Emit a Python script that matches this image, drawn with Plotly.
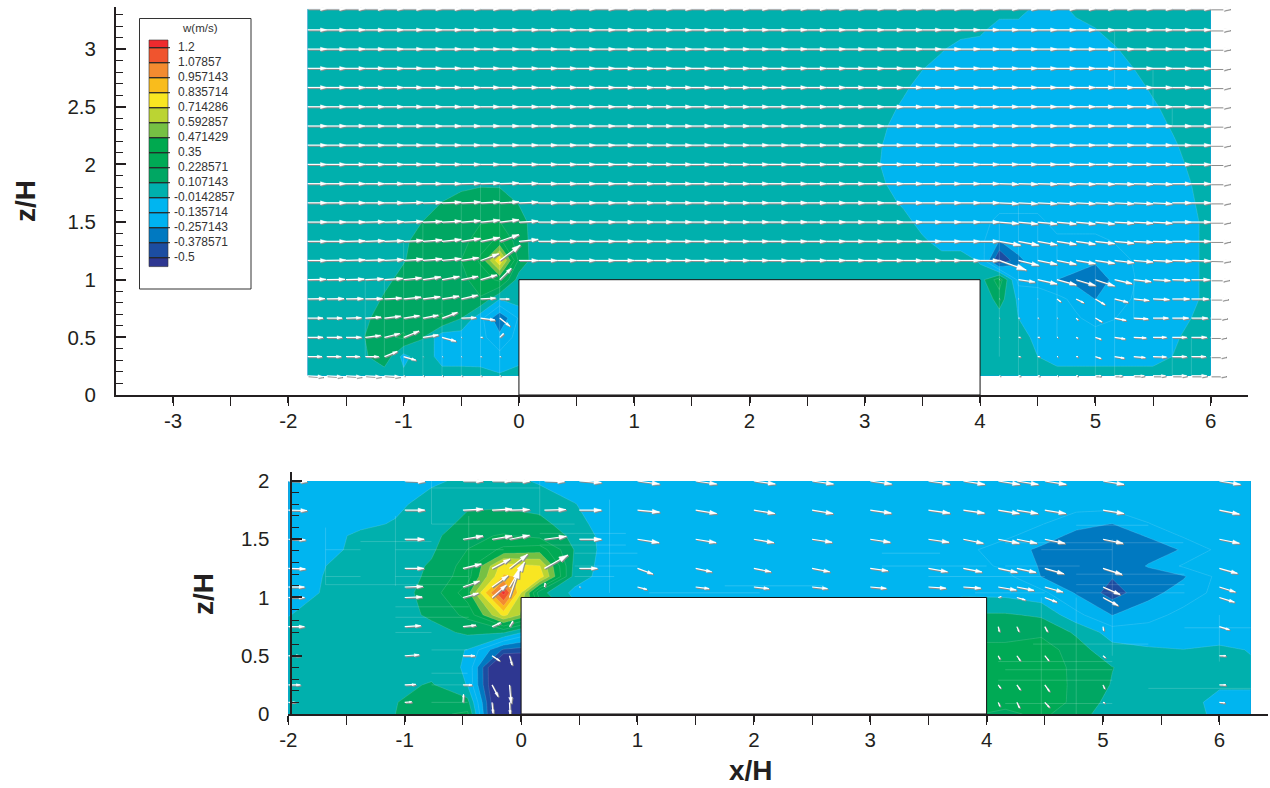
import math
import plotly.graph_objects as go

W, H = 1270, 788
FONT = "Liberation Sans"
INK = "#231F20"

level_labels = ["1.2", "1.07857", "0.957143", "0.835714", "0.714286", "0.592857", "0.471429", "0.35",
                "0.228571", "0.107143", "-0.0142857", "-0.135714", "-0.257143", "-0.378571", "-0.5"]
level_values = [1.2, 1.07857, 0.957143, 0.835714, 0.714286, 0.592857, 0.471429, 0.35,
                0.228571, 0.107143, -0.0142857, -0.135714, -0.257143, -0.378571, -0.5]
band_colors = ["#2E3791", "#1C4DA1", "#0079C1", "#00B2F0", "#00B5F0", "#00B0AD", "#00A763", "#00AA55",
               "#00A94F", "#76C044", "#BBD433", "#F8E622", "#F9BC1C", "#F38B30", "#F0542E", "#EE2A2E"]

# ---------- upper panel: grid
x_top = [-1.833, -1.667, -1.5, -1.333, -1.167, -1, -.833, -.667, -.5, -.333, -.167, 0, .167, .333, .5, .667, .833, 1,
         1.167, 1.333, 1.5, 1.667, 1.833, 2, 2.167, 2.333, 2.5, 2.667, 2.833, 3, 3.167, 3.333, 3.5, 3.667, 3.833, 4,
         4.167, 4.333, 4.5, 4.667, 4.833, 5, 5.167, 5.333, 5.5, 5.667, 5.833, 6]
z_top = [.167, .333, .5, .667, .833, 1, 1.167, 1.333, 1.5, 1.667, 1.833, 2, 2.167, 2.333, 2.5, 2.667, 2.833, 3, 3.167, 3.35]

w_top = [
    [.05, .05, .05, .05, .03, .02, .05, .05, .05, .05, .0, .05] + [.05] * 36,
    [.05, .05, .05, .09, .2, -.06, .08, -.08, -.08, -.09, -.1, -.07] + [.05] * 26 + [-.014] + [-.08] * 6 + [-.014, .05, .05],
    [.05, .05, .05, .11, .2, .25, .11, -.1, -.08, -.1, -.22, -.09] + [.05] * 26 + [-.057] + [-.08] * 6 + [-.057, .05, .05],
    [.05, .05, .05, .09, .15, .17, .19, .25, .11, -.095, -.36, -.12] + [.05] * 24 + [.06, -.015, -.08, -.08, -.12, -.18, -.14, -.08, -.08, -.08, -.014, .05],
    [.05, .05, .05, .05, .12, .16, .16, .17, .17, .22, -.01, .05] + [.05] * 23 + [.0, .16, -.04, -.1, -.1, -.17, -.26, -.17, -.13, -.08, -.08, -.057, .05],
    [.05, .05, .05, .05, .08, .14, .16, .17, .2, .28, .38, .05] + [.05] * 24 + [.3, -.18, -.16, -.257, -.3, -.36, -.217, -.14, -.08, -.08, -.057, .05],
    [.05, .05, .05, .05, .05, .1, .16, .17, .23, .37, .82, .2, .02] + [.05] * 22 + [-.03, -.52, -.28, -.2, -.16, -.19, -.23, -.18, -.13, -.08, -.08, -.057, .05],
    [.05, .05, .05, .05, .05, .08, .17, .17, .18, .3, .38, .16] + [.05] * 20 + [.018, -.08, -.08, -.1, -.26, -.2, -.17, -.17, -.17, -.17, -.13, -.08, -.08, -.08, -.057, .05],
    [.05, .05, .05, .05, .05, .05, .11, .15, .17, .22, .23, .15] + [.05] * 19 + [.051] + [-.08] * 4 + [-.18] * 3 + [-.08] * 7 + [-.057, .05],
    [.05] * 7 + [.11, .16, .18, .17, .1] + [.05] * 19 + [-.042] + [-.08] * 14 + [-.03, .05],
    [.05] * 8 + [.07, .09, .09, .05] + [.05] * 18 + [-.007] + [-.08] * 15 + [-.014, .05],
    [.05] * 30 + [-.03] + [-.08] * 15 + [.018, .05],
    [.05] * 30 + [-.021] + [-.08] * 14 + [-.042, .05, .05],
    [.05] * 30 + [.002] + [-.08] * 14 + [.002, .05, .05],
    [.05] * 31 + [-.042] + [-.08] * 12 + [-.042, .05, .05, .05],
    [.05] * 31 + [.018] + [-.08] * 12 + [.018, .05, .05, .05],
    [.05] * 32 + [-.007] + [-.08] * 10 + [-.014, .05, .05, .05, .05],
    [.05] * 33 + [.002] + [-.08] * 8 + [-.03] + [.05] * 5,
    [.05] * 35 + [.018] + [-.08] * 5 + [-.021] + [.05] * 6,
    [.05] * 38 + [-.057, -.08, .034] + [.05] * 7,
]

u_arrow_top = [
    [.8] * 5 + [.05] * 6 + [0] + [0] * 24 + [.05, .1, .1, .05, .1, .3, .4, .55, .65, .75, .8, .8],
    [.75, .75, .72, .7, .67, .63, .02, .03, .03, .05, .05, 0] + [0] * 24 + [0, .1, .1, .05, .1, .3, .5, .6, .7, .75, .75, .8],
    [.8, .8, .8, .8, .8, .8, .8, .72, .03, .1, .2, 0] + [0] * 24 + [.02, .1, .1, .05, .1, .3, .55, .65, .7, .75, .8, .8],
    [.8, .8, .8, .82, .85, .82, .8, .8, .77, .75, .53, 0] + [0] * 24 + [.02, .05, .05, .03, .1, .35, .6, .75, .8, .85, .85, .85],
    [.9, .9, .9, .9, .9, .9, .9, .88, .85, .78, .5, 0] + [0] * 24 + [.02, .02, .02, .2, .4, .5, .7, .8, .85, .9, .9, .9],
    [.95, .95, .95, .95, .95, .93, .93, .9, .87, .85, .6, 0] + [0] * 24 + [.02, .85, 1, 1, 1, 1, .9, .9, .9, .93, .95, .95],
    [1] * 8 + [.9, .95, 1.07, 1] + [1] * 24 + [1.4, 1.05, 1, 1, 1, 1, 1, 1, 1, 1, 1, 1],
    [1] * 36 + [1.1, 1.05] + [1] * 10,
    [1] * 48, [1] * 48, [1] * 48, [1] * 48, [1] * 48, [1] * 48, [1] * 48, [1] * 48, [1] * 48, [1] * 48, [1] * 48, [1] * 48,
]
v_arrow_top = [
    [-.05] * 5 + [0] * 43,
    [0, 0, 0, 0, .27, -.18] + [0] * 30 + [0, 0, 0, 0, 0, -.1, -.08, -.05, -.02, 0, 0, 0],
    [0, 0, 0, .1, .2, .33, .13, -.2, 0, 0, .2, 0] + [0] * 24 + [0, 0, 0, 0, -.05, -.1, -.08, -.03, 0, 0, 0, 0],
    [0, 0, .02, .05, .1, .13, .15, .3, .03, -.1, -.42, 0] + [0] * 24 + [0, 0, 0, 0, -.1, -.2, -.12, -.04, 0, 0, 0, 0],
    [.02, .02, .02, .02, .05, .1, .12, .15, .2, .05, 0, 0] + [0] * 24 + [0, 0, 0, -.15, -.2, -.3, -.17, -.08, -.03, 0, 0, 0],
    [.02, .02, .03, .05, .07, .1, .15, .17, .18, .25, .6, 0] + [0] * 24 + [0, -.12, -.22, -.27, -.3, -.33, -.2, -.1, -.05, -.02, 0, 0],
    [0, .02, .03, .03, .05, .07, .08, .1, .15, .35, .8, 0] + [0] * 24 + [-.5, -.25, -.2, -.2, -.17, -.15, -.12, -.08, -.05, -.02, -.02, -.02],
    [0, 0, .02, .03, .03, .05, .07, .1, .15, .2, .35, .1] + [0] * 24 + [-.2, -.2, -.18, -.16, -.15, -.12, -.1, -.05, -.03, 0, 0, 0],
    [0, 0, 0, .02, .02, .03, .03, .05, .07, .1, .12, .05] + [0] * 24 + [-.08, -.1, -.1, -.1, -.1, -.1, -.06, -.06, -.06, 0, 0, 0],
    [0, 0, 0, 0, 0, .02, .02, .03, .04, .05, .05, .03] + [0] * 24 + [-.05] * 9 + [0] * 3,
    [0] * 8 + [.02, .03, .03, .01] + [0] * 24 + [-.03] * 9 + [0] * 3,
    [0] * 48, [0] * 48, [0] * 48, [0] * 48, [0] * 48, [0] * 48, [0] * 48, [0] * 48, [0] * 48,
]

# pale mesh edges seen through the upper contour: x0, z0, x1, z1
mesh_top = [
    [-1.333, .333, -1.333, 1], [-1.167, .333, -1.167, 1], [-1, .167, -1, 1.333], [-.833, .167, -.833, 1.5],
    [-.667, .167, -.667, 1], [-.5, .167, -.5, 1.667], [-.333, .167, -.333, 1.833], [-.167, .167, -.167, 1.833],
    [4.167, .333, 4.167, 1.5], [4.333, .167, 4.333, 1.667], [4.5, .167, 4.5, 1.5], [4.667, .5, 4.667, 1.333],
    [5, .167, 5, 1.167], [5.167, .167, 5.167, .833], [5.333, .667, 5.333, 1], [5.667, .167, 5.667, .5], [5.833, .167, 5.833, .5],
    [5.167, 2.667, 5.167, 3.167], [5.5, 2.5, 5.5, 2.833], [5.667, 2.333, 5.667, 2.5],
]

# ---------- lower panel: contour grid
x_low = [-2, -1.68, -1.38, -1.08, -.77, -.46, -.15, .16, .46, .76, 1.1, 1.5, 2, 2.5, 3, 3.5, 3.8, 4.16, 4.47, 4.77, 5.08, 5.39, 5.69, 6, 6.27]
z_low = [0, .1, .25, .4, .55, .7, .85, 1.04, 1.18, 1.27, 1.41, 1.53, 1.63, 1.8, 2]
w_low = [
    [.05, .05, .05, .107, .2, .25, -.9, -.9, .05, .05, .05, .05, .05, .05, .05, .05, .25, .2, .26, .15, .05, .05, .05, -.05, -.05],
    [.05, .05, .05, .1, .2, .15, -.85, -.85, .05, .05, .05, .05, .05, .05, .05, .05, .25, .27, .3, .2, .06, .05, .03, -.05, -.05],
    [.05, .05, .05, .07, .12, -.02, -.85, -.85, .05, .05, .05, .05, .05, .05, .05, .05, .25, .27, .31, .2, .1, .05, .05, .0, .0],
    [.05, .05, .05, .05, .05, -.03, -.85, -.85, .05, .05, .05, .05, .05, .05, .05, .05, .25, .25, .3, .2, .11, .05, .05, .05, .0],
    [.05, .05, .05, .05, .05, -.02, -.4, -.45, .05, .05, .05, .05, .05, .05, .05, .05, .25, .25, .3, .16, .03, .0, -.012, .01, -.02],
    [.05, .05, .05, .05, .06, .13, .12, -.14, .05, .05, .05, .05, .05, .05, .05, .05, .2, .2, .2, .09, -.07, -.08, -.08, -.08, -.08],
    [-.02, .05, .05, .05, .13, .26, .75, .4, .05, .05, .05, .05, .05, .05, .05, .05, .12, .12, .09, -.1, -.26, -.18, -.1, -.08, -.08],
    [-.06, -.005, .05, .05, .16, .42, 1.25, .15, -.05, -.08, -.09, -.1, -.1, -.1, -.1, -.1, -.04, -.05, -.1, -.27, -.43, -.3, -.2, -.1, -.09],
    [-.06, -.01, .05, .05, .13, .3, .85, .8, .05, -.08, -.08, -.08, -.08, -.08, -.08, -.08, -.09, -.1, -.26, -.29, -.37, -.3, -.27, -.1, -.09],
    [-.07, -.015, .05, .05, .12, .28, .78, .72, .07, -.08, -.08, -.08, -.08, -.08, -.08, -.09, -.1, -.15, -.27, -.3, -.33, -.25, -.12, -.08, -.08],
    [-.08, -.05, .02, .05, .09, .23, .38, .42, .1, -.08, -.08, -.08, -.08, -.08, -.08, -.08, -.1, -.2, -.28, -.3, -.31, -.3, -.25, -.1, -.08],
    [-.09, -.07, .02, .05, .07, .2, .24, .19, .08, -.08, -.08, -.08, -.08, -.08, -.08, -.08, -.09, -.11, -.2, -.29, -.3, -.25, -.12, -.08, -.08],
    [-.09, -.08, -.05, .0, .05, .14, .17, .15, .03, -.08, -.08, -.08, -.08, -.08, -.08, -.08, -.08, -.09, -.13, -.22, -.26, -.14, -.09, -.08, -.08],
    [-.1, -.09, -.08, -.05, .05, .09, .09, .06, -.01, -.08, -.08, -.08, -.08, -.08, -.08, -.08, -.08, -.08, -.08, -.08, -.08, -.08, -.08, -.08, -.08],
    [-.1, -.1, -.09, -.08, -.04, .02, .03, -.03, -.08, -.08, -.08, -.08, -.08, -.08, -.08, -.08, -.08, -.08, -.08, -.08, -.08, -.08, -.08, -.08, -.08],
]

# ---------- lower panel: velocity arrows
x_arrow_low = [-2, -1, -.5, -.25, -.1, .2, .5, 1, 1.5, 2, 2.5, 3, 3.5, 3.8, 4.1, 4.26, 4.5, 5, 6]
z_arrow_low = [.1, .25, .5, .75, 1, 1.09, 1.25, 1.5, 1.75, 2]
u_arrow_low = [
    [.35, .35, .03, .05, .03] + [0] * 9 + [.08, .13, .23, .1, .28],
    [.6, .55, .45, .3, .08] + [0] * 9 + [.12, .17, .23, .08, .33],
    [.6, .72, .6, .38, .13] + [0] * 9 + [.08, .17, .2, .12, .33],
    [.8, .8, .65, .43, .17] + [0] * 9 + [.05, .1, .13, .03, .5],
    [.8, .87, .77, .72, .5] + [0] * 9 + [.15, .42, .6, .75, .75],
    [.8, .9, .83, .8, .75, .04, .05, .47, .67, .75, .77, .8, .87, .87, .9, .85, .9, .85, .8],
    [.85, .95, .92, .9, .9, 1.17, .9, .77, .8, .85, .88, .88, .95, .92, .95, .95, .95, .95, .9],
    [.85, .97, 1, 1, 1, 1.1, 1.1, 1.08, 1.02, 1, 1, 1, 1.03, 1, 1.05, 1, 1, 1, 1],
    [.93, 1, 1, 1, 1, 1.07, 1.1, 1.1, 1.05, 1.05, 1.05, 1.05, 1.07, 1.05, 1.05, 1.05, 1.05, 1.05, 1],
    [.93, 1, 1, .95, 1, 1, 1.1, 1.1, 1.05, 1.07, 1.07, 1.07, 1.07, 1.07, 1.07, 1.07, 1.07, 1.05, 1.05],
]
v_arrow_low = [
    [0, .03, .4, -.55, -.6] + [0] * 9 + [-.2, -.28, -.25, -.03, -.02],
    [0, .02, 0, -.58, -.92] + [0] * 9 + [-.17, -.25, -.33, -.2, 0],
    [0, .05, 0, -.25, -.47] + [0] * 9 + [-.17, -.25, -.25, -.1, 0],
    [0, .05, .07, .2, .28] + [0] * 9 + [-.25, -.25, -.25, -.2, -.15],
    [0, .03, .22, .63, 1.47] + [0] * 9 + [.05, -.12, -.23, -.4, -.23],
    [0, .03, .3, .58, 1.25, .2, 0, -.12, -.08, -.08, -.08, -.07, -.06, -.06, -.15, -.17, -.25, -.37, -.25],
    [-.03, 0, .22, .47, .7, .67, 0, -.28, -.17, -.17, -.17, -.12, -.17, -.18, -.2, -.2, -.27, -.3, -.25],
    [-.03, 0, .17, .17, .2, .15, 0, -.17, -.17, -.17, -.15, -.15, -.15, -.2, -.2, -.2, -.2, -.2, -.2],
    [-.02, 0, .05, .05, .03, .03, 0, -.1, -.17, -.17, -.17, -.15, -.15, -.15, -.17, -.17, -.17, -.17, -.2],
    [-.03, -.03, 0, 0, -.02, -.03, -.08, -.15, -.15, -.15, -.15, -.15, -.15, -.17, -.17, -.17, -.17, -.17, -.17],
]

# pale mesh edges seen through the lower contour: x0, z0, x1, z1
mesh_low = [
    [-1.68, 1.11, -1.08, 1.11], [-1.08, 1.11, -.45, 1.11], [-1.68, 1.18, -1.38, 1.18], [-1.08, 1.18, -.45, 1.18],
    [-1.68, 1.41, -1.38, 1.41], [-1.08, 1.41, -.15, 1.41], [-1.38, 1.48, -.77, 1.48], [-.77, 1.63, .46, 1.63],
    [-.77, 1.94, .16, 1.94], [-1.08, .92, -.45, .92], [-1.08, .83, -.45, .83], [-1.08, .7, -.77, .7],
    [-.77, .55, -.46, .55], [-.77, .35, -.46, .35], [-.77, .25, -.46, .25], [-.77, .1, -.46, .1],
    [.16, 1.55, .9, 1.55], [.16, 1.45, .9, 1.45], [.46, 1.38, 1, 1.38], [.46, 1.27, 1, 1.27], [.46, 1.18, .8, 1.18],
    [1.1, 1.04, 2.05, 1.04], [1.75, 1.1, 2.6, 1.1], [3.1, 1.38, 3.6, 1.38], [3.1, 1.27, 4, 1.27], [3.5, 1.18, 4.5, 1.18], [3.9, 1.04, 4.5, 1.04],
    [4.77, 1.62, 5.39, 1.62], [4.16, 1.47, 5.69, 1.47], [4.47, 1.41, 5.08, 1.41], [4.16, 1.27, 4.8, 1.27],
    [4.77, 1.2, 5.7, 1.2], [4.77, 1.11, 5.7, 1.11], [4.77, 1.04, 5.7, 1.04], [5.7, .74, 6.27, .74], [4.4, .6, 5.39, .6],
    [4.1, .45, 5.08, .45], [4.16, .38, 5.08, .38], [4.1, .29, 5.08, .29], [5.39, .22, 6.27, .22], [4.16, .09, 5.08, .09],
    [-1.68, 1.11, -1.68, 1.6], [-1.08, 1.1, -1.08, 1.7], [-.77, 1.63, -.77, 2], [-.45, 1, -.45, 1.7], [.16, 1.7, .16, 2],
    [.76, 1.04, .76, 1.84], [4.47, 0, 4.47, 1], [4.77, 0, 4.77, 1], [5.08, .5, 5.08, 1.5], [6, .45, 6, .85],
]

building_x = [0, 4]
building_z = [0, 1]
ticks_major_x_top = [-3, -2, -1, 0, 1, 2, 3, 4, 5, 6]
ticks_major_x_low = [-2, -1, 0, 1, 2, 3, 4, 5, 6]
ticks_major_z_top = [0, .5, 1, 1.5, 2, 2.5, 3]
ticks_major_z_low = [0, .5, 1, 1.5, 2]


def px_x(p):
    return p / W


def px_y(p):
    return 1 - p / H


fig = go.Figure()
n = len(band_colors) - 1
scale = [[i / n, c] for i, c in enumerate(band_colors)]
contour_opts = dict(
    colorscale=scale, showscale=False, hoverinfo="skip", autocontour=False,
    contours=dict(start=-0.5, end=1.2, size=1.7 / 14, coloring="fill", showlines=True),
    line=dict(color="rgba(255,255,255,0.22)", width=0.6, smoothing=0),
)
fig.add_trace(go.Contour(x=x_top, y=z_top, z=w_top, xaxis="x", yaxis="y", **contour_opts))
fig.add_trace(go.Contour(x=x_low, y=z_low, z=w_low, xaxis="x2", yaxis="y2", **contour_opts))


def add_mesh(segments, xaxis, yaxis):
    mx, mz = [], []
    for x0, z0, x1, z1 in segments:
        mx += [x0, x1, None]
        mz += [z0, z1, None]
    fig.add_trace(go.Scatter(x=mx, y=mz, mode="lines", line=dict(color="rgba(255,255,255,0.24)", width=0.7),
                             xaxis=xaxis, yaxis=yaxis, hoverinfo="skip", showlegend=False))


add_mesh(mesh_top, "x", "y")
add_mesh(mesh_low, "x2", "y2")


def add_arrows(xs, zs, us, vs, xaxis, yaxis, unit, off):
    sx, sz, hx, hz = [], [], [], []
    for j, z in enumerate(zs):
        for i, x in enumerate(xs):
            u, v = us[j][i], vs[j][i]
            if u == 0 and v == 0:
                continue
            if 0 < x < 4 and z <= 1.001:
                continue
            tx, tz = x + u * unit, z + v * unit
            sx += [x, tx, None]
            sz += [z, tz, None]
            # head scales with the arrow, as in the reference
            bx, bz = tx - 0.33 * u * unit, tz - 0.33 * v * unit
            nx, nz = -0.1 * v * unit, 0.1 * u * unit
            hx += [tx, bx + nx, bx - nx, tx, None]
            hz += [tz, bz + nz, bz - nz, tz, None]
    for color, dx, dz, width in (("#8C8C8C", off, -off, 1.4), ("#FFFFFF", 0, 0, 1.2)):
        fig.add_trace(go.Scatter(x=[None if a is None else a + dx for a in sx],
                                 y=[None if a is None else a + dz for a in sz],
                                 mode="lines", line=dict(color=color, width=width),
                                 xaxis=xaxis, yaxis=yaxis, hoverinfo="skip", showlegend=False))
        fig.add_trace(go.Scatter(x=[None if a is None else a + dx for a in hx],
                                 y=[None if a is None else a + dz for a in hz],
                                 mode="lines", fill="toself", fillcolor=color, line=dict(color=color, width=0.4),
                                 xaxis=xaxis, yaxis=yaxis, hoverinfo="skip", showlegend=False))


add_arrows(x_top, z_top, u_arrow_top, v_arrow_top, "x", "y", 0.1667, 0.008)
add_arrows(x_arrow_low, z_arrow_low, u_arrow_low, v_arrow_low, "x2", "y2", 0.172, 0.008)

# legend: a value axis of its own, same colours and levels as the contours
step = level_values[0] - level_values[1]
top_edge = 1.2 + step * 7.7 / 15
bottom_edge = -0.5 - step * 8.9 / 15
edges = [bottom_edge] + level_values[::-1] + [top_edge]
fig.add_trace(go.Bar(x=[158.5] * 16, y=[edges[i + 1] - edges[i] for i in range(16)], base=edges[:-1], width=19,
                     marker=dict(color=band_colors, line=dict(color="#333333", width=0.6)),
                     xaxis="x3", yaxis="y3", hoverinfo="skip", showlegend=False))
tx, ty = [], []
for v in level_values:
    tx += [149, 170, None]
    ty += [v, v, None]
fig.add_trace(go.Scatter(x=tx, y=ty, mode="lines", line=dict(color="#222222", width=1), xaxis="x3", yaxis="y3",
                         hoverinfo="skip", showlegend=False))
fig.add_trace(go.Scatter(x=[174 if s.startswith("-") else 178 for s in level_labels], y=level_values,
                         text=level_labels, mode="text", textposition="middle right",
                         textfont=dict(family=FONT, size=12, color="#333333"),
                         xaxis="x3", yaxis="y3", hoverinfo="skip", showlegend=False))

axis_font = dict(family=FONT, size=20.5, color=INK)


def xaxis(domain, rng, vals, anchor, **kw):
    return dict(domain=domain, range=rng, anchor=anchor, tickmode="array", tickvals=vals,
                ticktext=[str(v) for v in vals], ticks="outside", ticklen=6,
                tickwidth=2, tickcolor=INK, showline=True, linecolor=INK, linewidth=2, showgrid=False, zeroline=False,
                tickfont=axis_font, ticklabelstandoff=0,
                minor=dict(dtick=0.5, tick0=0, ticks="outside", ticklen=9, tickwidth=1, tickcolor=INK, showgrid=False), **kw)


def yaxis(domain, rng, vals, standoff, **kw):
    return dict(domain=domain, range=rng, tickmode="array", tickvals=vals,
                ticktext=[f"{v:g}" for v in vals], ticks="inside", ticklen=10, tickwidth=2,
                tickcolor=INK, showline=True, linecolor=INK, linewidth=2, showgrid=False, zeroline=False,
                tickfont=axis_font, ticklabelstandoff=standoff,
                minor=dict(dtick=0.1, tick0=0, ticks="inside", ticklen=7, tickwidth=1, tickcolor=INK, showgrid=False), **kw)


shapes = []
for xr, yr in (("x", "y"), ("x2", "y2")):
    shapes.append(dict(type="rect", xref=xr, yref=yr, x0=building_x[0], x1=building_x[1], y0=building_z[0], y1=building_z[1],
                       fillcolor="white", line=dict(color="#111111", width=1), layer="above"))
shapes.append(dict(type="rect", xref="paper", yref="paper", x0=px_x(139.5), x1=px_x(251), y0=px_y(289), y1=px_y(18.5),
                   line=dict(color="#333333", width=1), fillcolor="rgba(0,0,0,0)", layer="above"))

title_font = dict(family=FONT, size=28, color=INK)
common = dict(xref="paper", yref="paper", showarrow=False, xanchor="center", yanchor="middle")
annotations = [
    dict(text="<b>z/H</b>", x=px_x(25), y=px_y(201), textangle=-90, font=title_font, **common),
    dict(text="<b>z/H</b>", x=px_x(203), y=px_y(594), textangle=-90, font=title_font, **common),
    dict(text="<b>x/H</b>", x=px_x(751), y=px_y(770), font=title_font, **common),
    dict(text="w(m/s)", x=px_x(200), y=px_y(28), font=dict(family=FONT, size=11.5, color="#333333"), **common),
]

fig.update_layout(
    width=W, height=H, autosize=False, margin=dict(l=0, r=0, t=0, b=0, autoexpand=False), paper_bgcolor="white", plot_bgcolor="white",
    showlegend=False, shapes=shapes, annotations=annotations,
    xaxis=xaxis([px_x(116), px_x(1248)], [-3.495, 6.324], ticks_major_x_top, "y"),
    yaxis=yaxis([px_y(395), px_y(7)], [0, 3.365], ticks_major_z_top, 14, anchor="x"),
    xaxis2=xaxis([px_x(288), px_x(1268)], [-2.003, 6.418], ticks_major_x_low, "y2"),
    yaxis2=yaxis([px_y(714), px_y(472)], [0, 2.077], ticks_major_z_low, 16, anchor="free", position=px_x(290.5)),
    xaxis3=dict(domain=[px_x(139), px_x(251)], range=[139, 251], anchor="y3", visible=False),
    yaxis3=dict(domain=[px_y(289), px_y(18)], range=[-0.5 - step * 31.3 / 15, 1.2 + step * 29.7 / 15], anchor="x3", visible=False),
)

fig.write_html("out.html", post_script="document.body.style.margin='0';", config={"displayModeBar": False})
